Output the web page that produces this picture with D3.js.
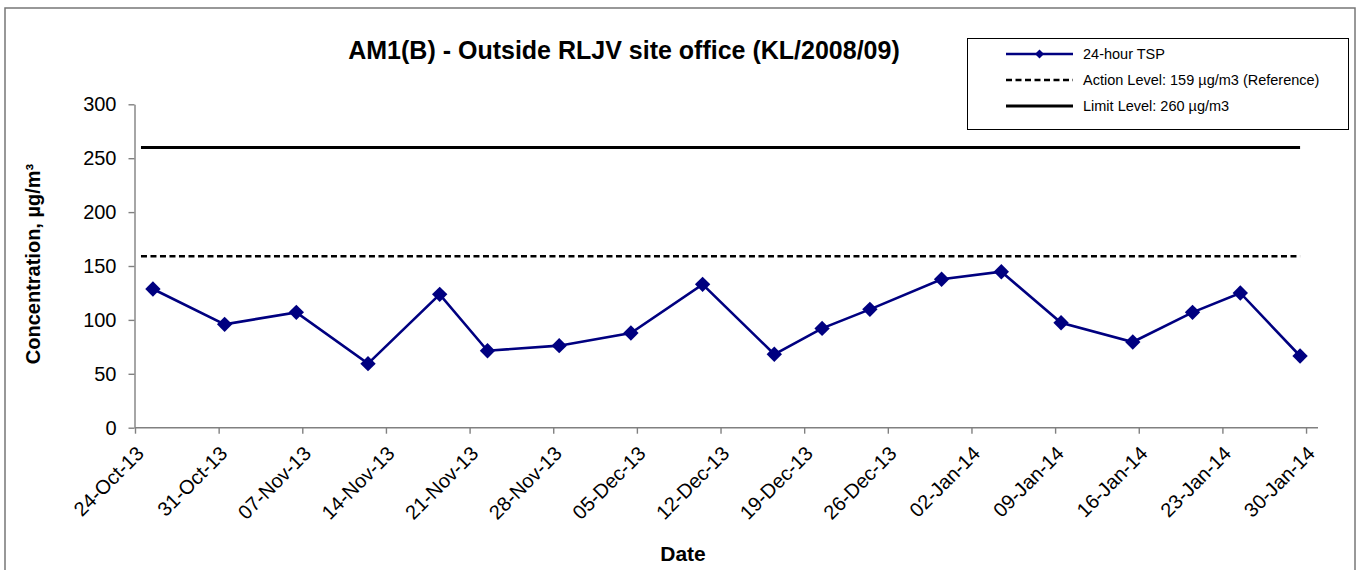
<!DOCTYPE html>
<html>
<head>
<meta charset="utf-8">
<script src="https://cdn.jsdelivr.net/npm/d3@7/dist/d3.min.js"></script>
<style>
  body { margin: 0; background: #fff; }
  svg text { font-family: "Liberation Sans", Arial, sans-serif; fill: #000; }
  .axis path, .axis line { stroke: #808080; stroke-width: 1.4; }
</style>
</head>
<body>
<div id="chart"></div>
<script>
// data
const sampleDates = ['2013-10-25', '2013-10-31', '2013-11-06', '2013-11-12', '2013-11-18',
  '2013-11-22', '2013-11-28', '2013-12-04', '2013-12-10', '2013-12-16', '2013-12-20',
  '2013-12-24', '2013-12-30', '2014-01-04', '2014-01-09', '2014-01-15', '2014-01-20',
  '2014-01-24', '2014-01-29'];
const tspValues = [128.7, 95.9, 107, 59.4, 123.7, 71.4, 76.1, 87.8, 133, 68.1, 92.1,
  109.8, 137.7, 144.7, 97.4, 79.5, 107, 125, 66.5];
const levelDates = ['2013-10-24', '2014-01-29'];
const actionLevel = [159, 159];
const limitLevel = [260, 260];
const axisRange = ['2013-10-24', '2014-01-31'];
const yTicks = [0, 50, 100, 150, 200, 250, 300];
const legendLabels = ['24-hour TSP', 'Action Level: 159 µg/m3 (Reference)', 'Limit Level: 260 µg/m3'];

const parse = d3.utcParse('%Y-%m-%d');
const fmt = d3.utcFormat('%d-%b-%y');

class LineChart {
  constructor(node) {
    this.container = d3.select(node);
    this.width = 1359;
    this.height = 570;
    this.margin = { left: 135, right: 1318, top: 104.3, bottom: 427.7 };
    this.setupUtils();
    this.setupDOM();
  }

  setupUtils() {
    this.x = d3.scaleUtc()
      .domain(axisRange.map(parse))
      .range([this.margin.left, this.margin.right]);
    this.y = d3.scaleLinear()
      .domain([0, 300])
      .range([this.margin.bottom, this.margin.top]);
    // excel puts a point in the middle of its day
    this.xMid = (d) => this.x(d3.utcHour.offset(d, 12));
  }

  setupDOM() {
    this.svg = this.container.append('svg')
      .attr('width', this.width)
      .attr('height', this.height);
    this.svg.append('rect')
      .attr('x', 5).attr('y', 8)
      .attr('width', 1350).attr('height', 600)
      .attr('fill', '#fff')
      .attr('stroke', '#777')
      .attr('stroke-width', 1.5);
  }

  drawAxes() {
    const xAxis = d3.axisBottom(this.x)
      .tickValues(this.x.ticks(d3.utcThursday))
      .tickSize(6)
      .tickFormat('');
    const gx = this.svg.append('g')
      .attr('class', 'axis')
      .attr('transform', `translate(0,${this.margin.bottom})`)
      .call(xAxis);
    gx.select('.domain').attr('d', `M${this.margin.left},0H${this.margin.right}`);

    this.svg.append('g').selectAll('text')
      .data(this.x.ticks(d3.utcThursday))
      .join('text')
      .attr('transform', (d) => `translate(${this.x(d) + 10},${this.margin.bottom + 27}) rotate(-45)`)
      .attr('text-anchor', 'end')
      .attr('font-size', 20)
      .text((d) => fmt(d));

    const yAxis = d3.axisLeft(this.y)
      .tickValues(yTicks)
      .tickSize(6)
      .tickPadding(12)
      .tickSizeOuter(0);
    const gy = this.svg.append('g')
      .attr('class', 'axis')
      .attr('transform', `translate(${this.margin.left - 0.5},0)`)
      .call(yAxis);
    gy.selectAll('text')
      .attr('font-size', 20)
      .attr('font-family', '"Liberation Sans", Arial, sans-serif');

    this.svg.append('text')
      .attr('transform', 'translate(40,264) rotate(-90)')
      .attr('text-anchor', 'middle')
      .attr('font-size', 20)
      .attr('font-weight', 'bold')
      .text('Concentration, µg/m³');

    this.svg.append('text')
      .attr('x', 683).attr('y', 561)
      .attr('text-anchor', 'middle')
      .attr('font-size', 21)
      .attr('font-weight', 'bold')
      .text('Date');

    this.svg.append('text')
      .attr('x', 624).attr('y', 59)
      .attr('text-anchor', 'middle')
      .attr('font-size', 25)
      .attr('font-weight', 'bold')
      .text('AM1(B) - Outside RLJV site office (KL/2008/09)');
  }

  drawGraph() {
    const levels = levelDates.map(parse);
    const line = d3.line()
      .x((d) => this.xMid(d[0]))
      .y((d) => this.y(d[1]));

    this.svg.append('path')
      .datum(d3.zip(levels, limitLevel))
      .attr('d', line)
      .attr('fill', 'none')
      .attr('stroke', '#000')
      .attr('stroke-width', 3);

    this.svg.append('path')
      .datum(d3.zip(levels, actionLevel))
      .attr('d', line)
      .attr('fill', 'none')
      .attr('stroke', '#000')
      .attr('stroke-width', 2.5)
      .attr('stroke-dasharray', '6,3.5');

    const tsp = d3.zip(sampleDates.map(parse), tspValues);
    this.svg.append('path')
      .datum(tsp)
      .attr('d', line)
      .attr('fill', 'none')
      .attr('stroke', '#000080')
      .attr('stroke-width', 2.6);

    const diamond = d3.symbol(d3.symbolSquare, 118);
    this.svg.append('g').selectAll('path')
      .data(tsp)
      .join('path')
      .attr('d', diamond)
      .attr('fill', '#000080')
      .attr('transform', (d) => `translate(${this.xMid(d[0])},${this.y(d[1])}) rotate(45)`);
  }

  drawLegend() {
    const g = this.svg.append('g');
    g.append('rect')
      .attr('x', 967.5).attr('y', 38.5)
      .attr('width', 381).attr('height', 91)
      .attr('fill', '#fff')
      .attr('stroke', '#000')
      .attr('stroke-width', 1);
    const styles = [
      { stroke: '#000080', width: 2.6, dash: null },
      { stroke: '#000', width: 2.5, dash: '6,3.5' },
      { stroke: '#000', width: 3, dash: null },
    ];
    const rowY = (i) => 54 + i * 26;
    g.selectAll('line')
      .data(styles)
      .join('line')
      .attr('x1', 1006).attr('x2', 1073)
      .attr('y1', (d, i) => rowY(i)).attr('y2', (d, i) => rowY(i))
      .attr('stroke', (d) => d.stroke)
      .attr('stroke-width', (d) => d.width)
      .attr('stroke-dasharray', (d) => d.dash);
    g.append('path')
      .attr('d', d3.symbol(d3.symbolSquare, 40))
      .attr('fill', '#000080')
      .attr('transform', `translate(1039.5,${rowY(0)}) rotate(45)`);
    g.selectAll('text')
      .data(legendLabels)
      .join('text')
      .attr('x', 1083)
      .attr('y', (d, i) => rowY(i))
      .attr('dy', '0.35em')
      .attr('font-size', 14.5)
      .text((d) => d);
  }
}

const chart = new LineChart(document.getElementById('chart'));
chart.drawAxes();
chart.drawGraph();
chart.drawLegend();
</script>
</body>
</html>
